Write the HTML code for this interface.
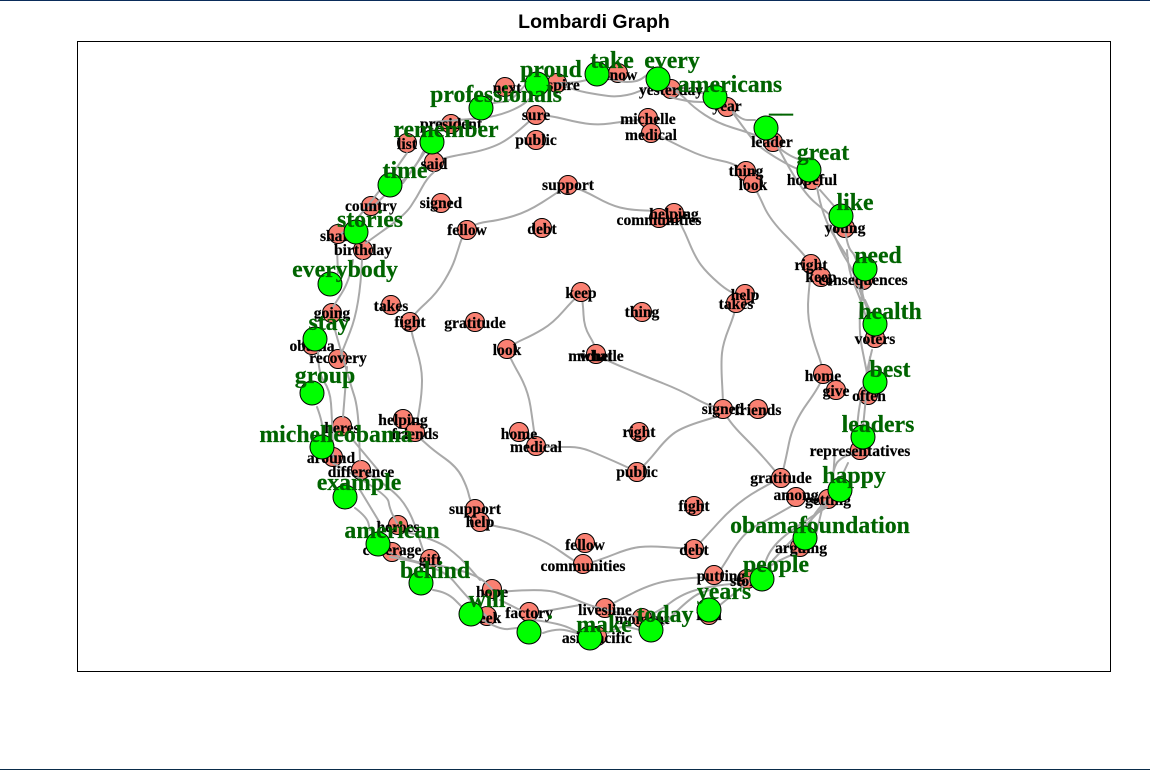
<!DOCTYPE html>
<html><head><meta charset="utf-8"><title>Lombardi Graph</title>
<style>
html,body{margin:0;padding:0;background:#fff;width:1150px;height:770px;overflow:hidden}
svg{display:block}
.e polyline,.e path{fill:none;stroke:#a9a9a9;stroke-width:2;stroke-linejoin:round;stroke-linecap:round}
.s circle{fill:#fa8072;stroke:#000;stroke-width:1}
.g circle{fill:#00ff00;stroke:#000;stroke-width:1}
.sl text{font:bold 15.6px "Liberation Serif",serif;fill:#000;stroke:#000;stroke-width:.2;text-anchor:middle}
.gl text{font:bold 23.8px "Liberation Serif",serif;fill:#006400;stroke:#006400;stroke-width:.2;text-anchor:middle}
</style></head><body>
<svg width="1150" height="770" viewBox="0 0 1150 770" xmlns="http://www.w3.org/2000/svg">
<rect width="1150" height="770" fill="#fff"/>
<rect x="0" y="0" width="1150" height="1" fill="#0a2c5a"/>
<rect x="0" y="769" width="1150" height="1" fill="#0a2c4a"/>
<text x="594" y="28" style="font:bold 19.5px 'Liberation Sans',sans-serif" text-anchor="middle" fill="#000">Lombardi Graph</text>
<rect x="77.5" y="41.5" width="1033" height="630" fill="none" stroke="#000" stroke-width="1"/>

<g class="e">
<polyline points="568,185 557,193 527,212 500,220 477,223 467,230"/>
<polyline points="568,185 583,190 610,205 630,210 660,211 674,213"/>
<polyline points="674,213 682,225 695,257 707,273 730,293 745,295"/>
<polyline points="736,305 735,313 723,343 721,363 723,400 723,409"/>
<polyline points="581,293 573,300 553,323 533,335 515,343 507,350"/>
<polyline points="581,293 583,302 584,327 595,345 596,354"/>
<polyline points="596,354 605,360 647,377 680,390 707,405 723,409"/>
<polyline points="507,350 510,358 528,390 533,423 536,447"/>
<polyline points="536,447 560,447 580,447 600,455 627,467 637,472"/>
<polyline points="637,472 647,463 667,438 683,427 722,415"/>
<polyline points="723,409 727,420 760,453 781,478"/>
<polyline points="823,375 822,383 793,423 785,463 781,478"/>
<polyline points="811,270 810,278 807,313 813,340 822,365 823,375"/>
<polyline points="753,185 758,193 770,220 803,253 811,265"/>
<polyline points="651,134 658,135 683,148 707,158 733,163 746,172"/>
<polyline points="536,115 548,115 580,123 600,125 620,122 648,119"/>
<polyline points="536,115 513,137 487,150 447,157 434,162"/>
<polyline points="467,230 462,237 458,250 452,268 437,293 415,313 410,322"/>
<polyline points="410,322 411,332 422,367 422,393 417,423 415,435"/>
<polyline points="415,435 420,438 433,450 457,467 467,487 470,500 475,510"/>
<polyline points="480,522 493,526 517,530 547,542 577,563 583,565"/>
<polyline points="583,565 600,560 630,548 650,546 678,548 694,549"/>
<polyline points="694,549 700,543 737,502 780,478"/>
<polyline points="714,577 718,575 743,533 767,520 797,503"/>
<polyline points="605,608 613,603 653,583 687,578 713,577"/>
<polyline points="642,618 657,613 683,593 717,585 747,583"/>
</g>

<g class="s">
<circle cx="568" cy="185" r="9.5"/><circle cx="467" cy="230" r="9.5"/><circle cx="542" cy="228" r="9.5"/><circle cx="441" cy="203" r="9.5"/>
<circle cx="536" cy="115" r="9.5"/><circle cx="536" cy="140" r="9.5"/><circle cx="648" cy="118" r="9.5"/><circle cx="651" cy="133" r="9.5"/>
<circle cx="746" cy="171" r="9.5"/><circle cx="753" cy="183" r="9.5"/><circle cx="674" cy="213" r="9.5"/><circle cx="659" cy="218" r="9.5"/>
<circle cx="811" cy="264" r="9.5"/><circle cx="821" cy="277" r="9.5"/><circle cx="745" cy="294" r="9.5"/><circle cx="736" cy="303" r="9.5"/>
<circle cx="823" cy="374" r="9.5"/><circle cx="836" cy="390" r="9.5"/><circle cx="723" cy="409" r="9.5"/><circle cx="758" cy="409" r="9.5"/>
<circle cx="781" cy="478" r="9.5"/><circle cx="796" cy="497" r="9.5"/><circle cx="694" cy="506" r="9.5"/><circle cx="637" cy="472" r="9.5"/>
<circle cx="694" cy="549" r="9.5"/><circle cx="714" cy="575" r="9.5"/><circle cx="585" cy="543" r="9.5"/><circle cx="583" cy="564" r="9.5"/>
<circle cx="475" cy="509" r="9.5"/><circle cx="480" cy="522" r="9.5"/><circle cx="403" cy="419" r="9.5"/><circle cx="415" cy="432" r="9.5"/>
<circle cx="391" cy="305" r="9.5"/><circle cx="410" cy="322" r="9.5"/><circle cx="475" cy="322" r="9.5"/><circle cx="581" cy="292" r="9.5"/>
<circle cx="642" cy="312" r="9.5"/><circle cx="507" cy="349" r="9.5"/><circle cx="596" cy="354" r="9.5"/><circle cx="519" cy="432" r="9.5"/>
<circle cx="536" cy="446" r="9.5"/><circle cx="639" cy="432" r="9.5"/>
<circle cx="505" cy="87" r="9.5"/><circle cx="557" cy="83" r="9.5"/><circle cx="451" cy="124" r="9.5"/><circle cx="407" cy="143" r="9.5"/>
<circle cx="434" cy="162" r="9.5"/><circle cx="371" cy="206" r="9.5"/><circle cx="338" cy="234" r="9.5"/><circle cx="363" cy="250" r="9.5"/>
<circle cx="332" cy="313" r="9.5"/><circle cx="312" cy="345" r="9.5"/><circle cx="338" cy="359" r="9.5"/><circle cx="342" cy="426" r="9.5"/>
<circle cx="333" cy="457" r="9.5"/><circle cx="361" cy="470" r="9.5"/><circle cx="398" cy="525" r="9.5"/><circle cx="392" cy="552" r="9.5"/>
<circle cx="430" cy="559" r="9.5"/><circle cx="492" cy="589" r="9.5"/><circle cx="487" cy="616" r="9.5"/><circle cx="529" cy="612" r="9.5"/>
<circle cx="605" cy="608" r="9.5"/><circle cx="597" cy="636" r="9.5"/><circle cx="642" cy="618" r="9.5"/><circle cx="709" cy="615" r="9.5"/>
<circle cx="747" cy="579" r="9.5"/><circle cx="800" cy="547" r="9.5"/><circle cx="828" cy="499" r="9.5"/><circle cx="860" cy="450" r="9.5"/>
<circle cx="868" cy="395" r="9.5"/><circle cx="875" cy="338" r="9.5"/><circle cx="863" cy="280" r="9.5"/><circle cx="845" cy="228" r="9.5"/>
<circle cx="812" cy="180" r="9.5"/><circle cx="773" cy="142" r="9.5"/><circle cx="727" cy="107" r="9.5"/><circle cx="671" cy="89" r="9.5"/>
<circle cx="618" cy="73" r="9.5"/>
</g>

<g class="e">
<polyline points="481,108 493,102 510,102 527,83"/>
<polyline points="432,122 457,120 497,117 530,102 537,83"/>
<polyline points="432,142 403,183"/>
<polyline points="407,153 402,160 393,173"/>
<polyline points="434,172 427,178 417,197 405,215 370,240 366,243"/>
<polyline points="423,152 413,173 390,190 370,210"/>
<polyline points="380,190 357,220 338,237"/>
<polyline points="557,83 573,83 587,80"/>
<polyline points="557,83 573,90 600,95 617,97 637,93 658,82"/>
<polyline points="597,74 617,82 637,82 647,75"/>
<polyline points="658,80 680,93 693,107 717,123 750,133 773,142"/>
<polyline points="670,97 687,102 715,102"/>
<polyline points="677,90 703,93"/>
<polyline points="730,108 740,120 755,120"/>
<polyline points="733,113 750,137 763,150 797,170 809,170"/>
<polyline points="778,147 790,157 810,162"/>
<polyline points="778,147 800,190 830,215"/>
<polyline points="817,187 822,217 848,258"/>
<polyline points="820,190 842,215"/>
<polyline points="845,228 847,247 857,257 863,300 870,313"/>
<polyline points="830,225 840,250 853,270 863,300"/>
<polyline points="847,250 848,270 860,298 867,320"/>
<polyline points="863,287 857,323 867,373"/>
<polyline points="865,300 873,317"/>
<polyline points="872,350 860,400 857,427"/>
<polyline points="870,357 867,387 863,427"/>
<polyline points="860,450 840,457 833,470 830,495"/>
<polyline points="835,450 833,480"/>
<polyline points="848,463 840,480"/>
<polyline points="827,507 790,530 767,553 762,579"/>
<polyline points="823,505 813,547"/>
<polyline points="827,503 773,560"/>
<polyline points="828,499 813,513 805,538"/>
<polyline points="797,553 777,560 747,583 720,605"/>
<polyline points="663,625 690,597 709,590"/>
<polyline points="608,633 620,625 640,630"/>
<polyline points="543,633 557,628 577,633"/>
<polyline points="533,620 560,623 583,635"/>
<polyline points="500,592 543,588 570,597 593,607 642,618"/>
<polyline points="500,600 520,610"/>
<polyline points="540,612 580,605"/>
<polyline points="483,620 500,630 517,628"/>
<polyline points="433,590 447,592 463,608"/>
<polyline points="390,553 413,562 450,567 480,577 492,589"/>
<polyline points="390,557 440,565 467,597 487,617"/>
<polyline points="407,532 437,540 460,557 480,580"/>
<polyline points="363,470 390,487 410,510 423,550"/>
<polyline points="333,463 387,493 390,510 397,523"/>
<polyline points="355,508 367,517 370,530"/>
<polyline points="360,490 380,523"/>
<polyline points="317,407 323,423 322,440"/>
<polyline points="318,350 318,373 330,390 332,417 333,457"/>
<polyline points="333,323 350,383 358,407 360,460"/>
<polyline points="347,367 343,417"/>
<polyline points="362,260 360,307 340,357"/>
<polyline points="337,250 338,273"/>
<polyline points="353,260 350,280 333,307"/>
<polyline points="353,440 378,470"/>
</g>

<g class="sl">
<text x="568" y="190">support</text><text x="467" y="235">fellow</text><text x="542" y="234">debt</text><text x="441" y="208">signed</text>
<text x="536" y="120">sure</text><text x="536" y="145">public</text><text x="648" y="124">michelle</text><text x="651" y="140">medical</text>
<text x="746" y="176">thing</text><text x="753" y="190">look</text><text x="674" y="219">helping</text><text x="659" y="225">communities</text>
<text x="811" y="270">right</text><text x="821" y="282">keep</text><text x="745" y="300">help</text><text x="736" y="309">takes</text>
<text x="823" y="381">home</text><text x="836" y="396">give</text><text x="723" y="414">signed</text><text x="758" y="415">friends</text>
<text x="781" y="483">gratitude</text><text x="796" y="500">among</text><text x="694" y="511">fight</text><text x="637" y="477">public</text>
<text x="694" y="555">debt</text><text x="721" y="581">putting</text><text x="585" y="550">fellow</text><text x="583" y="571">communities</text>
<text x="475" y="514">support</text><text x="480" y="527">help</text><text x="403" y="425">helping</text><text x="415" y="439">friends</text>
<text x="391" y="311">takes</text><text x="410" y="327">fight</text><text x="475" y="328">gratitude</text><text x="581" y="298">keep</text>
<text x="642" y="317">thing</text><text x="507" y="355">look</text><text x="596" y="361">michelle</text><text x="596" y="361">what</text><text x="519" y="439">home</text>
<text x="536" y="452">medical</text><text x="639" y="437">right</text>
<text x="507" y="93">next</text><text x="557" y="90">inspire</text><text x="451" y="129">president</text><text x="407" y="149">list</text>
<text x="434" y="169">said</text><text x="371" y="211">country</text><text x="338" y="241">share</text><text x="363" y="255">birthday</text>
<text x="332" y="318">going</text><text x="312" y="351">obama</text><text x="338" y="363">recovery</text><text x="342" y="433">heres</text>
<text x="331" y="463">around</text><text x="361" y="477">difference</text><text x="398" y="532">heroes</text><text x="392" y="555">coverage</text>
<text x="430" y="565">gift</text><text x="492" y="597">hope</text><text x="487" y="623">seek</text><text x="529" y="618">factory</text>
<text x="605" y="615">livesline</text><text x="597" y="643">asiapacific</text><text x="642" y="624">moment</text><text x="709" y="620">real</text>
<text x="747" y="586">story</text><text x="801" y="553">arguing</text><text x="828" y="505">getting</text><text x="860" y="456">representatives</text>
<text x="869" y="401">often</text><text x="875" y="344">voters</text><text x="863" y="285">consequences</text><text x="845" y="233">young</text>
<text x="812" y="185">hopeful</text><text x="772" y="147">leader</text><text x="727" y="111">year</text><text x="671" y="95">yesterday</text>
<text x="619" y="80">know</text>
</g>

<g class="g">
<circle cx="537" cy="84" r="12"/><circle cx="481" cy="108" r="12"/><circle cx="597" cy="74" r="12"/><circle cx="658" cy="79" r="12"/>
<circle cx="715" cy="97" r="12"/><circle cx="766" cy="128" r="12"/><circle cx="809" cy="170" r="12"/><circle cx="841" cy="216" r="12"/>
<circle cx="865" cy="269" r="12"/><circle cx="875" cy="324" r="12"/><circle cx="875" cy="382" r="12"/><circle cx="863" cy="437" r="12"/>
<circle cx="840" cy="490" r="12"/><circle cx="805" cy="538" r="12"/><circle cx="762" cy="579" r="12"/><circle cx="709" cy="610" r="12"/>
<circle cx="651" cy="630" r="12"/><circle cx="590" cy="638" r="12"/><circle cx="529" cy="632" r="12"/><circle cx="471" cy="614" r="12"/>
<circle cx="421" cy="583" r="12"/><circle cx="378" cy="544" r="12"/><circle cx="345" cy="497" r="12"/><circle cx="322" cy="447" r="12"/>
<circle cx="312" cy="393" r="12"/><circle cx="315" cy="339" r="12"/><circle cx="330" cy="284" r="12"/><circle cx="356" cy="232" r="12"/>
<circle cx="390" cy="185" r="12"/><circle cx="432" cy="142" r="12"/>
</g>

<g class="gl">
<text x="551" y="77">proud</text><text x="496" y="102">professionals</text><text x="612" y="68">take</text><text x="672" y="68">every</text>
<text x="730" y="92">americans</text><text x="781" y="112">__</text><text x="823" y="160">great</text><text x="855" y="210">like</text>
<text x="878" y="263">need</text><text x="890" y="319">health</text><text x="890" y="377">best</text><text x="878" y="432">leaders</text>
<text x="854" y="483">happy</text><text x="820" y="533">obamafoundation</text><text x="776" y="572">people</text><text x="724" y="599">years</text>
<text x="665" y="622">today</text><text x="604" y="632">make</text><text x="550" y="619">.</text><text x="487" y="607">will</text>
<text x="435" y="578">behind</text><text x="392" y="538">american</text><text x="359" y="490">example</text><text x="336" y="442">michelleobama</text>
<text x="325" y="383">group</text><text x="329" y="330">stay</text><text x="345" y="277">everybody</text><text x="370" y="227">stories</text>
<text x="405" y="178">time</text><text x="446" y="137">remember</text>
</g>
</svg>
<script>
document.querySelectorAll('.e polyline').forEach(function(l){
  var p=l.getAttribute('points').trim().split(/\s+/).map(function(s){return s.split(',').map(Number)});
  var d='M'+p[0].join(' ');
  for(var i=1;i<p.length-1;i++){
    var mx=(p[i][0]+p[i+1][0])/2,my=(p[i][1]+p[i+1][1])/2;
    d+=' Q'+p[i].join(' ')+' '+mx+' '+my;
  }
  d+=' L'+p[p.length-1].join(' ');
  var e=document.createElementNS('http://www.w3.org/2000/svg','path');
  e.setAttribute('d',d);
  l.parentNode.replaceChild(e,l);
});
</script>
</body></html>
